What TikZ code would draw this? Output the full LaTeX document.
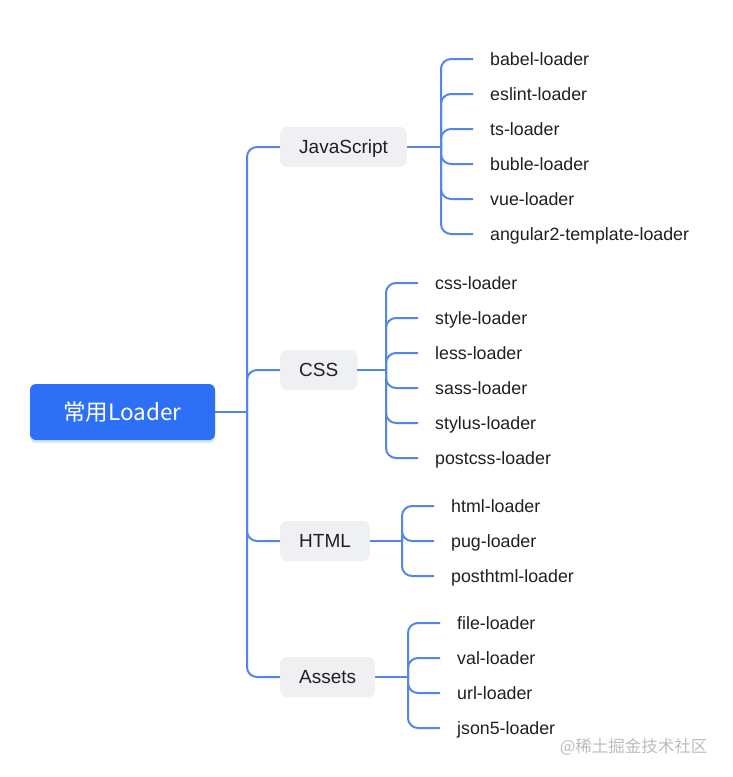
\documentclass[tikz,border=0pt]{standalone}
\usepackage{fontspec}
\setmainfont{Liberation Sans}
\newfontfamily\cjkfont{Noto Sans CJK SC}
\usetikzlibrary{positioning,shadows}
\definecolor{rootblue}{RGB}{45,112,246}
\definecolor{linkblue}{RGB}{82,134,232}
\definecolor{groupgray}{RGB}{239,240,242}
\definecolor{inkdark}{RGB}{32,32,34}
\definecolor{markgray}{RGB}{188,188,190}
\tikzset{rootbox/.style={fill=rootblue, rounded corners=6pt, minimum width=185pt,
             minimum height=56pt, text=white, font=\cjkfont\fontsize{22.5}{26}\selectfont,
             drop shadow={shadow xshift=0pt, shadow yshift=-3pt, fill=rootblue, opacity=0.18}},
         group/.style={fill=groupgray, rounded corners=7pt, anchor=west, minimum height=40pt,
             inner xsep=19pt, text height=13.4pt, text depth=0pt, text=inkdark,
             font=\fontsize{19}{22}\selectfont},
         leaf/.style={anchor=west, inner xsep=17pt, inner ysep=0pt, text height=12.8pt,
             text depth=0pt, text=inkdark, font=\fontsize{17.8}{20}\selectfont},
         link/.style={draw=linkblue, line width=2pt, rounded corners=10pt},
         watermark/.style={anchor=east, text=markgray, font=\cjkfont\fontsize{16.5}{19}\selectfont}}

\begin{document}
\begin{tikzpicture}[x=1pt, y=-1pt]
          \useasboundingbox[fill=white] (0,0) rectangle (733,777);
          \node[rootbox] (root) at (122.5,412) {常用Loader};
          \coordinate (rootfork) at (247,412);

          \node[group] (js)     at (280,147) {JavaScript};
          \node[group] (css)    at (280,370) {CSS};
          \node[group] (html)   at (280,541) {HTML};
          \node[group] (assets) at (280,677) {Assets};

          \coordinate (jsfork)     at (441,147);
          \coordinate (cssfork)    at (386,370);
          \coordinate (htmlfork)   at (402,541);
          \coordinate (assetsfork) at (408,677);

          \node[leaf] (babel)    at (473,59)  {babel-loader};
          \node[leaf] (eslint)   at (473,94)  {eslint-loader};
          \node[leaf] (ts)       at (473,129) {ts-loader};
          \node[leaf] (buble)    at (473,164) {buble-loader};
          \node[leaf] (vue)      at (473,199) {vue-loader};
          \node[leaf] (angular)  at (473,234) {angular2-template-loader};

          \node[leaf] (cssl)     at (418,283) {css-loader};
          \node[leaf] (style)    at (418,318) {style-loader};
          \node[leaf] (less)     at (418,353) {less-loader};
          \node[leaf] (sass)     at (418,388) {sass-loader};
          \node[leaf] (stylus)   at (418,423) {stylus-loader};
          \node[leaf] (postcss)  at (418,458) {postcss-loader};

          \node[leaf] (htmll)    at (434,506) {html-loader};
          \node[leaf] (pug)      at (434,541) {pug-loader};
          \node[leaf] (posthtml) at (434,576) {posthtml-loader};

          \node[leaf] (file)     at (440,623) {file-loader};
          \node[leaf] (val)      at (440,658) {val-loader};
          \node[leaf] (url)      at (440,693) {url-loader};
          \node[leaf] (json)     at (440,728) {json5-loader};

          \draw[link] (root.east) -- (rootfork);
          \draw[link] (rootfork) |- (js.west);
          \draw[link] (rootfork) |- (css.west);
          \draw[link] (rootfork) |- (html.west);
          \draw[link] (rootfork) |- (assets.west);

          \draw[link] (js.east) -- (jsfork);
          \draw[link] (jsfork) |- (babel.west);
          \draw[link] (jsfork) |- (eslint.west);
          \draw[link] (jsfork) |- (ts.west);
          \draw[link] (jsfork) |- (buble.west);
          \draw[link] (jsfork) |- (vue.west);
          \draw[link] (jsfork) |- (angular.west);

          \draw[link] (css.east) -- (cssfork);
          \draw[link] (cssfork) |- (cssl.west);
          \draw[link] (cssfork) |- (style.west);
          \draw[link] (cssfork) |- (less.west);
          \draw[link] (cssfork) |- (sass.west);
          \draw[link] (cssfork) |- (stylus.west);
          \draw[link] (cssfork) |- (postcss.west);

          \draw[link] (html.east) -- (htmlfork);
          \draw[link] (htmlfork) |- (htmll.west);
          \draw[link] (htmlfork) |- (pug.west);
          \draw[link] (htmlfork) |- (posthtml.west);

          \draw[link] (assets.east) -- (assetsfork);
          \draw[link] (assetsfork) |- (file.west);
          \draw[link] (assetsfork) |- (val.west);
          \draw[link] (assetsfork) |- (url.west);
          \draw[link] (assetsfork) |- (json.west);

          \node[watermark] (credit) at (711,747) {@稀土掘金技术社区};
        \end{tikzpicture}
\end{document}
